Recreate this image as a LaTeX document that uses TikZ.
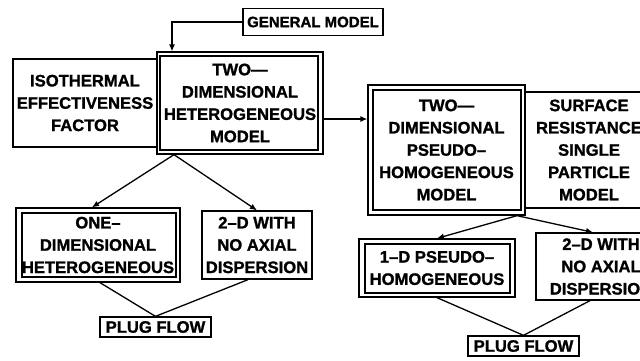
\documentclass[tikz,border=0pt]{standalone}
\usepackage{fontspec}
\setmainfont{Liberation Sans}[BoldFeatures={FakeBold=1.2}]
\usetikzlibrary{arrows.meta}
\begin{document}
\begin{tikzpicture}[x=1pt,y=-1pt,
  every node/.style={font=\fontsize{16.6}{22.3}\selectfont\bfseries},
  box/.style={draw,line width=1.3pt,rectangle,inner sep=0pt,align=center},
  arr/.style={line width=1.3pt,-{Latex[length=7pt,width=6pt]}},
  con/.style={line width=1.3pt},
  inner/.style={line width=1.2pt}]
\useasboundingbox (0,0) rectangle (640,360);
\begin{scope}
\clip (0,0) rectangle (640,360);
% nodes
\node[box,minimum width=140pt,minimum height=27pt,font=\fontsize{15}{18}\selectfont\bfseries] (gen) at (313,22) {GENERAL MODEL};
\node[box,minimum width=144pt,minimum height=88pt] (iso) at (85,103) {ISOTHERMAL\\EFFECTIVENESS\\FACTOR};
\node[box,minimum width=166pt,minimum height=102pt] (het) at (240,103) {TWO---\\DIMENSIONAL\\HETEROGENEOUS\\MODEL};
\draw[inner] (160,56) rectangle (318,150);
\node[box,minimum width=157pt,minimum height=130pt] (pse) at (446.5,150) {TWO---\\DIMENSIONAL\\PSEUDO--\\HOMOGENEOUS\\MODEL};
\draw[inner] (373,90) rectangle (521,210);
\node[box,minimum width=128pt,minimum height=116pt] (sur) at (589,150) {SURFACE\\RESISTANCE\\SINGLE\\PARTICLE\\MODEL};
\node[box,minimum width=164pt,minimum height=74pt] (one) at (98,245) {ONE--\\DIMENSIONAL\\HETEROGENEOUS};
\draw[inner] (22,213) rectangle (176,277);
\node[box,minimum width=110pt,minimum height=68pt] (twl) at (257,245) {2--D WITH\\NO AXIAL\\DISPERSION};
\node[box,minimum width=111pt,minimum height=20pt] (plL) at (155.5,327) {PLUG FLOW};
\node[box,minimum width=156pt,minimum height=58pt] (onr) at (437,268) {1--D PSEUDO--\\HOMOGENEOUS};
\draw[inner] (365,244) rectangle (510,293);
\node[box,minimum width=130pt,minimum height=67pt] (twr) at (601,266.5) {2--D WITH\\NO AXIAL\\DISPERSION};
\node[box,minimum width=111pt,minimum height=20pt] (plR) at (523.5,346) {PLUG FLOW};
% connectors
\draw[arr] (gen.west) -| ([xshift=-68pt]het.north);
\draw[arr] ([yshift=-16pt]het.east) -- ([yshift=-16pt]het.east -| pse.west);
\coordinate (hv) at ([xshift=-66pt]het.south);
\draw[arr] (hv) -- ([xshift=-6pt]one.north);
\draw[arr] (hv) -- (twl.north);
\draw[con] ([xshift=2pt]one.south) -- (plL.north);
\draw[con] ([xshift=-9pt]twl.south) -- (plL.north);
\coordinate (pv) at ([xshift=70.5pt]pse.south);
\draw[arr] (pv) -- (onr.north);
\draw[arr] (pv) -- ([xshift=-8pt]twr.north);
\draw[con] (onr.south) -- (plR.north);
\draw[con] ([xshift=-11pt]twr.south) -- (plR.north);
\end{scope}
\end{tikzpicture}
\end{document}
